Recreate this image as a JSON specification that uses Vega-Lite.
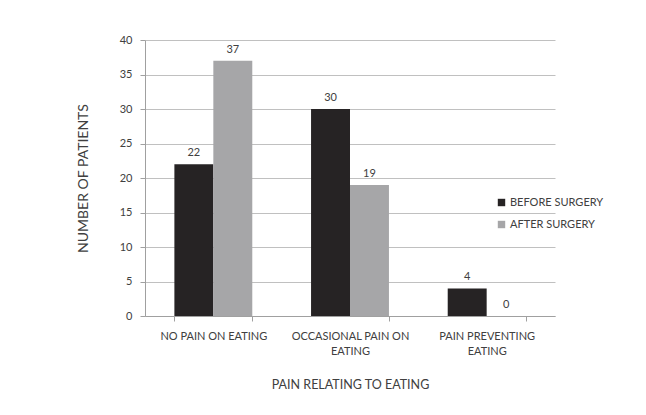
{
  "$schema": "https://vega.github.io/schema/vega-lite/v6.json",
  "autosize": "none",
  "width": 410,
  "height": 276,
  "padding": {"left": 145, "top": 40, "right": 91, "bottom": 99},
  "background": "white",
  "config": {
    "font": "Lato",
    "view": {"stroke": null},
    "axis": {"labelColor": "#404040", "titleColor": "#404040", "labelFont": "Lato", "titleFont": "Lato", "titleFontWeight": "normal", "labelFontSize": 11, "titleFontSize": 12}
  },
  "data": {
    "values": [
      {"category": "NO PAIN ON EATING", "group": "BEFORE SURGERY", "patients": 22},
      {"category": "NO PAIN ON EATING", "group": "AFTER SURGERY", "patients": 37},
      {"category": "OCCASIONAL PAIN ON EATING", "group": "BEFORE SURGERY", "patients": 30},
      {"category": "OCCASIONAL PAIN ON EATING", "group": "AFTER SURGERY", "patients": 19},
      {"category": "PAIN PREVENTING EATING", "group": "BEFORE SURGERY", "patients": 4},
      {"category": "PAIN PREVENTING EATING", "group": "AFTER SURGERY", "patients": 0}
    ]
  },
  "encoding": {
    "x": {
      "field": "category", "type": "nominal", "sort": null,
      "scale": {"paddingInner": 0.43, "paddingOuter": 0.215},
      "axis": {
        "title": "PAIN RELATING TO EATING",
        "titleFontSize": 12.5,
        "labelAngle": 0,
        "labelExpr": "datum.label == 'OCCASIONAL PAIN ON EATING' ? ['OCCASIONAL PAIN ON', 'EATING'] : datum.label == 'PAIN PREVENTING EATING' ? ['PAIN PREVENTING', 'EATING'] : datum.label",
        "labelLineHeight": 15,
        "labelPadding": 9,
        "tickBand": "extent",
        "tickSize": 5,
        "tickColor": "#a0a0a0",
        "domainColor": "#a0a0a0",
        "titlePadding": 22
      }
    },
    "xOffset": {"field": "group", "type": "nominal", "sort": ["BEFORE SURGERY", "AFTER SURGERY"]},
    "y": {
      "field": "patients", "type": "quantitative",
      "scale": {"domain": [0, 40]},
      "axis": {
        "title": "NUMBER OF PATIENTS",
        "titleFontSize": 14,
        "values": [0, 5, 10, 15, 20, 25, 30, 35, 40],
        "grid": true,
        "gridColor": "#c0c0c0",
        "tickColor": "#a0a0a0",
        "tickSize": 5,
        "domainColor": "#a0a0a0",
        "labelPadding": 8,
        "titlePadding": 29
      }
    }
  },
  "layer": [
    {
      "mark": {"type": "bar"},
      "encoding": {
        "color": {
          "field": "group", "type": "nominal",
          "sort": ["BEFORE SURGERY", "AFTER SURGERY"],
          "scale": {"domain": ["BEFORE SURGERY", "AFTER SURGERY"], "range": ["#262324", "#a6a6a8"]},
          "legend": {
            "title": null,
            "orient": "none",
            "legendX": 351,
            "legendY": 157,
            "symbolType": "square",
            "symbolSize": 55,
            "symbolStrokeWidth": 0,
            "labelFontSize": 11,
            "labelColor": "#404040",
            "labelFont": "Lato",
            "rowPadding": 10,
            "labelOffset": 3
          }
        }
      }
    },
    {
      "mark": {"type": "text", "baseline": "bottom", "dy": -6, "fontSize": 11, "color": "#404040", "font": "Lato"},
      "encoding": {"text": {"field": "patients", "type": "quantitative"}}
    }
  ]
}
